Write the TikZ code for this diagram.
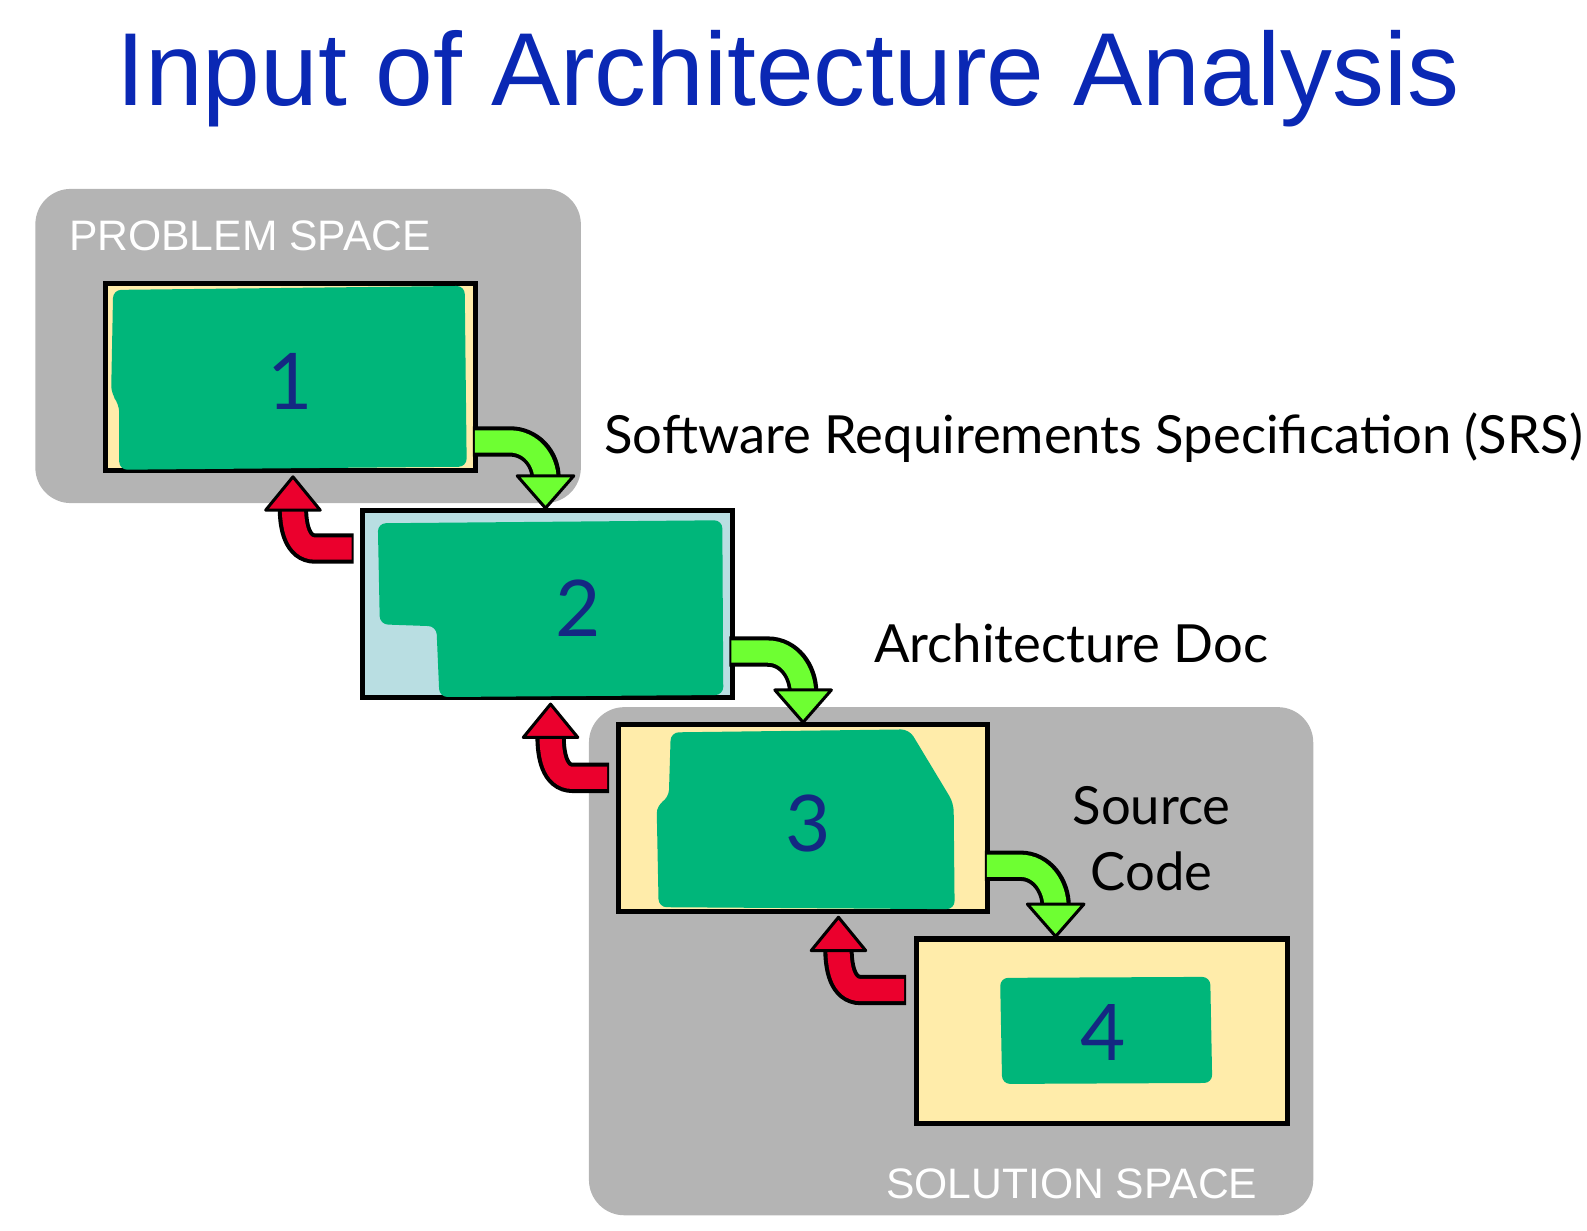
\documentclass[tikz,border=0pt]{standalone}
\usepackage{fontspec}
\setmainfont{Liberation Sans}
\newfontfamily\hand{Lato}
\begin{document}
\begin{tikzpicture}[x=0.01cm,y=-0.01cm,
  space/.style={fill=spgray,rounded corners=0.35cm},
  box/.style={draw=black,line width=0.05cm,anchor=north west,inner sep=0pt},
  blob/.style={fill=blobgreen,rounded corners=0.08cm},
  num/.style={text=numblue,font=\hand\fontsize{22}{24}\selectfont},
  lbl/.style={font=\hand\fontsize{14.8}{17}\selectfont,text=black},
  splbl/.style={text=white,font=\fontsize{12}{14}\selectfont},
  shaftout/.style={line width=0.30cm,draw=black},
  shaftin/.style={line width=0.22cm},
  head/.style={draw=black,line width=0.03cm,line join=round}]
\definecolor{spgray}{RGB}{180,180,180}
\definecolor{blobgreen}{RGB}{0,182,122}
\definecolor{paleyellow}{RGB}{255,236,170}
\definecolor{paleblue}{RGB}{185,222,226}
\definecolor{numblue}{RGB}{20,40,130}
\definecolor{titleblue}{RGB}{10,40,180}
\definecolor{lime}{RGB}{110,255,50}
\definecolor{redarr}{RGB}{235,0,45}
\useasboundingbox (0,0) rectangle (1571,1218);
\node (title) at (780,78) {\textcolor{titleblue}{\fontsize{29.2}{33}\selectfont Input of Architecture Analysis}};
% spaces
\path[space] (35,187) rectangle (575,498);
\node[splbl,anchor=west] (ps) at (56,233) {PROBLEM SPACE};
\path[space] (583,700) rectangle (1300,1203);
\node[splbl,anchor=east] (ss) at (1257,1172) {SOLUTION SPACE};
% boxes
\node[box,fill=paleyellow,minimum width=3.66cm,minimum height=1.85cm] (b1) at (102,278) {};
\path[blob] (112,287) -- (460,283) -- (462,462) -- (118,465) -- (118,400) -- (110,390) -- cycle;
\node[num] (n1) at (287,378) {1};
\node[box,fill=paleblue,minimum width=3.66cm,minimum height=1.85cm] (b2) at (356,503) {};
\path[blob] (374,518) -- (715,515) -- (716,688) -- (435,690) -- (432,620) -- (376,618) -- cycle;
\node[num] (n2) at (572,602) {2};
\node[box,fill=paleyellow,minimum width=3.65cm,minimum height=1.85cm] (b3) at (610,715) {};
\path[blob] (664,725) -- (900,722) -- (944,795) -- (945,900) -- (652,898) -- (650,797) -- (662,790) -- cycle;
\node[num] (n3) at (800,815) {3};
\node[box,fill=paleyellow,minimum width=3.67cm,minimum height=1.83cm] (b4) at (905,927) {};
\path[blob] (990,968) -- (1198,967) -- (1200,1072) -- (992,1073) -- cycle;
\node[num] (n4) at (1092,1022) {4};
% green arrows
\foreach \sx/\sy/\tx/\ty in {468/437/540/503, 722/645/795/715, 975/857/1045/927}{
  \draw[shaftout] (\sx,\sy) -- (\tx-35,\sy) to[out=0,in=90] (\tx,\ty-30);
  \draw[shaftin,draw=lime] (\sx+2,\sy) -- (\tx-35,\sy) to[out=0,in=90] (\tx,\ty-28);
  \filldraw[head,fill=lime] (\tx-28,\ty-32) -- (\tx+28,\ty-32) -- (\tx,\ty) -- cycle;
}
% red arrows
\foreach \sx/\sy/\tx/\ty in {350/543/290/472, 603/770/545/697, 897/980/830/908}{
  \draw[shaftout] (\sx,\sy) -- (\tx+22,\sy) to[out=180,in=-90] (\tx,\ty+32);
  \draw[shaftin,draw=redarr] (\sx-2,\sy) -- (\tx+22,\sy) to[out=180,in=-90] (\tx,\ty+30);
  \filldraw[head,fill=redarr] (\tx-27,\ty+33) -- (\tx+27,\ty+33) -- (\tx,\ty) -- cycle;
}
% labels
\node[lbl,anchor=west] (srs) at (586,433) {Software Requirements Specification (SRS)};
\node[lbl,anchor=west] (ad) at (853,637) {Architecture Doc};
\node[lbl,align=center] (sc) at (1140,830) {Source\\[0.05cm]Code};
\end{tikzpicture}
\end{document}
